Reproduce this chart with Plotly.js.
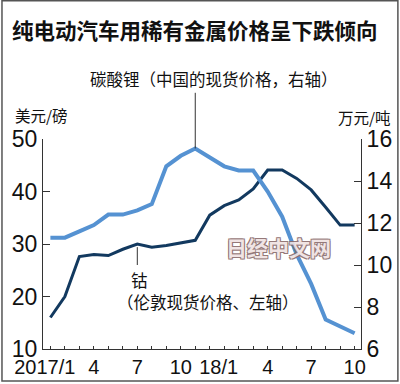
<!DOCTYPE html>
<html>
<head>
<meta charset="utf-8">
<script src="https://cdn.plot.ly/plotly-3.0.1.min.js"></script>
<style>
html,body{margin:0;padding:0;background:#fff;}
#chart{width:400px;height:384px;}
</style>
</head>
<body>
<div id="chart"></div>
<script>
// Months from 2017/1 to 2018/10
const months = ["2017/1","2017/2","2017/3","2017/4","2017/5","2017/6","2017/7","2017/8","2017/9","2017/10","2017/11","2017/12",
                "2018/1","2018/2","2018/3","2018/4","2018/5","2018/6","2018/7","2018/8","2018/9","2018/10"];
const NB = "\u00a0";
const tickLabels = ["2017/1" + NB + NB,"","","4","","","7","","","10","","","18/1" + NB + NB,"","","4","","","7","","","10"];
// Cobalt, London spot price, USD per pound (left axis)
const cobalt = [16.0,20.0,27.6,28.0,27.8,29.0,30.0,29.4,29.7,30.2,30.7,35.5,37.3,38.4,40.5,44.1,44.1,42.5,40.3,37.0,33.6,33.6];
// Lithium carbonate, China spot price, 10k CNY per ton (right axis)
const lithium = [11.3,11.3,11.6,11.9,12.4,12.4,12.6,12.9,14.7,15.2,15.55,15.1,14.7,14.5,14.5,13.5,12.3,10.5,9.1,7.4,7.1,6.75];

const titleText = "纯电动汽车用稀有金属价格呈下跌倾向";
const lithiumLabel = "碳酸锂（中国的现货价格，右轴）";
const cobaltLabel1 = "钴";
const cobaltLabel2 = "（伦敦现货价格、左轴）";
const leftUnit = "美元/磅";
const rightUnit = "万元/吨";
const watermark = "日经中文网";

const leftRange = [10, 50];
const rightRange = [6, 16];
const lithPeakIdx = 10;
const cobaltMarkIdx = 6;

const cjk = "Noto Sans CJK SC, sans-serif";
const num = "Liberation Sans, Arial, sans-serif";

const traces = [
  {x: months, y: lithium, type: 'scatter', mode: 'lines', yaxis: 'y2',
   line: {color: '#5592d2', width: 4}, hoverinfo: 'skip'},
  {x: months, y: cobalt, type: 'scatter', mode: 'lines', yaxis: 'y',
   line: {color: '#12395f', width: 3}, hoverinfo: 'skip'}
];

const pY2 = v => (v - rightRange[0]) / (rightRange[1] - rightRange[0]);
const pY1 = v => (v - leftRange[0]) / (leftRange[1] - leftRange[0]);

const layout = {
  width: 400, height: 384,
  margin: {l: 43, r: 39, t: 139, b: 35},
  paper_bgcolor: '#ffffff', plot_bgcolor: '#ffffff',
  showlegend: false,
  title: {text: titleText, font: {family: cjk, size: 21.5, color: '#111', weight: 'bold'},
          xref: 'container', yref: 'container', x: 0.03, xanchor: 'left', y: 0.918, yanchor: 'middle'},
  xaxis: {type: 'category', range: [-0.51, 21.44], tickvals: months, ticktext: tickLabels,
          ticks: 'inside', ticklen: 3, tickcolor: '#333', tickwidth: 1,
          showline: true, linecolor: '#333', linewidth: 1, showgrid: false, zeroline: false,
          tickfont: {family: num, size: 20, color: '#111'}, tickangle: 0},
  yaxis: {range: leftRange, tickvals: [10,20,30,40,50], ticks: 'inside', ticklen: 7, tickcolor: '#333',
          showline: true, linecolor: '#333', linewidth: 1, showgrid: false, zeroline: false,
          tickfont: {family: num, size: 23, color: '#111'}},
  yaxis2: {range: rightRange, tickvals: [6,8,10,12,14,16], overlaying: 'y', side: 'right',
           ticks: 'inside', ticklen: 7, tickcolor: '#333',
           showline: true, linecolor: '#333', linewidth: 1, showgrid: false, zeroline: false,
           tickfont: {family: num, size: 23, color: '#111'}},
  shapes: [
    {type: 'rect', xref: 'paper', yref: 'paper', x0: -0.129, x1: 1.116, y0: -0.152, y1: 1.658,
     line: {color: '#555', width: 1.5}},
    {type: 'line', xref: 'x', yref: 'paper', x0: months[lithPeakIdx], x1: months[lithPeakIdx],
     y0: pY2(lithium[lithPeakIdx]), y1: 1.22, line: {color: '#333', width: 1}},
    {type: 'line', xref: 'x', yref: 'paper', x0: months[cobaltMarkIdx], x1: months[cobaltMarkIdx],
     y0: 0.40, y1: pY1(cobalt[cobaltMarkIdx]) - 0.015, line: {color: '#333', width: 1}}
  ],
  annotations: [
    {text: lithiumLabel, xref: 'paper', yref: 'paper', x: 0.537, y: 1.286, showarrow: false,
     xanchor: 'center', yanchor: 'middle', font: {family: cjk, size: 16.5, color: '#111'}},
    {text: cobaltLabel1, xref: 'paper', yref: 'paper', x: 0.305, y: 0.329, showarrow: false,
     xanchor: 'center', yanchor: 'middle', font: {family: cjk, size: 16.5, color: '#111'}},
    {text: cobaltLabel2, xref: 'paper', yref: 'paper', x: 0.519, y: 0.224, showarrow: false,
     xanchor: 'center', yanchor: 'middle', font: {family: cjk, size: 16.5, color: '#111'}},
    {text: leftUnit, xref: 'paper', yref: 'paper', x: -0.094, y: 1.115, showarrow: false,
     xanchor: 'left', yanchor: 'middle', font: {family: cjk, size: 15.5, color: '#111'}},
    {text: rightUnit, xref: 'paper', yref: 'paper', x: 1.10, y: 1.105, showarrow: false,
     xanchor: 'right', yanchor: 'middle', font: {family: cjk, size: 15.5, color: '#111'}},
    {text: watermark, xref: 'paper', yref: 'paper', x: 0.739, y: 0.486, showarrow: false,
     xanchor: 'center', yanchor: 'middle', opacity: 0.9,
     font: {family: cjk, size: 21, color: '#efe2e2', weight: 'bold',
            shadow: '1px 1px 0 #8a6b6b, -1px -1px 0 #8a6b6b, 1px -1px 0 #8a6b6b, -1px 1px 0 #8a6b6b'}}
  ]
};

Plotly.newPlot('chart', traces, layout, {staticPlot: true, displayModeBar: false});
</script>
</body>
</html>
